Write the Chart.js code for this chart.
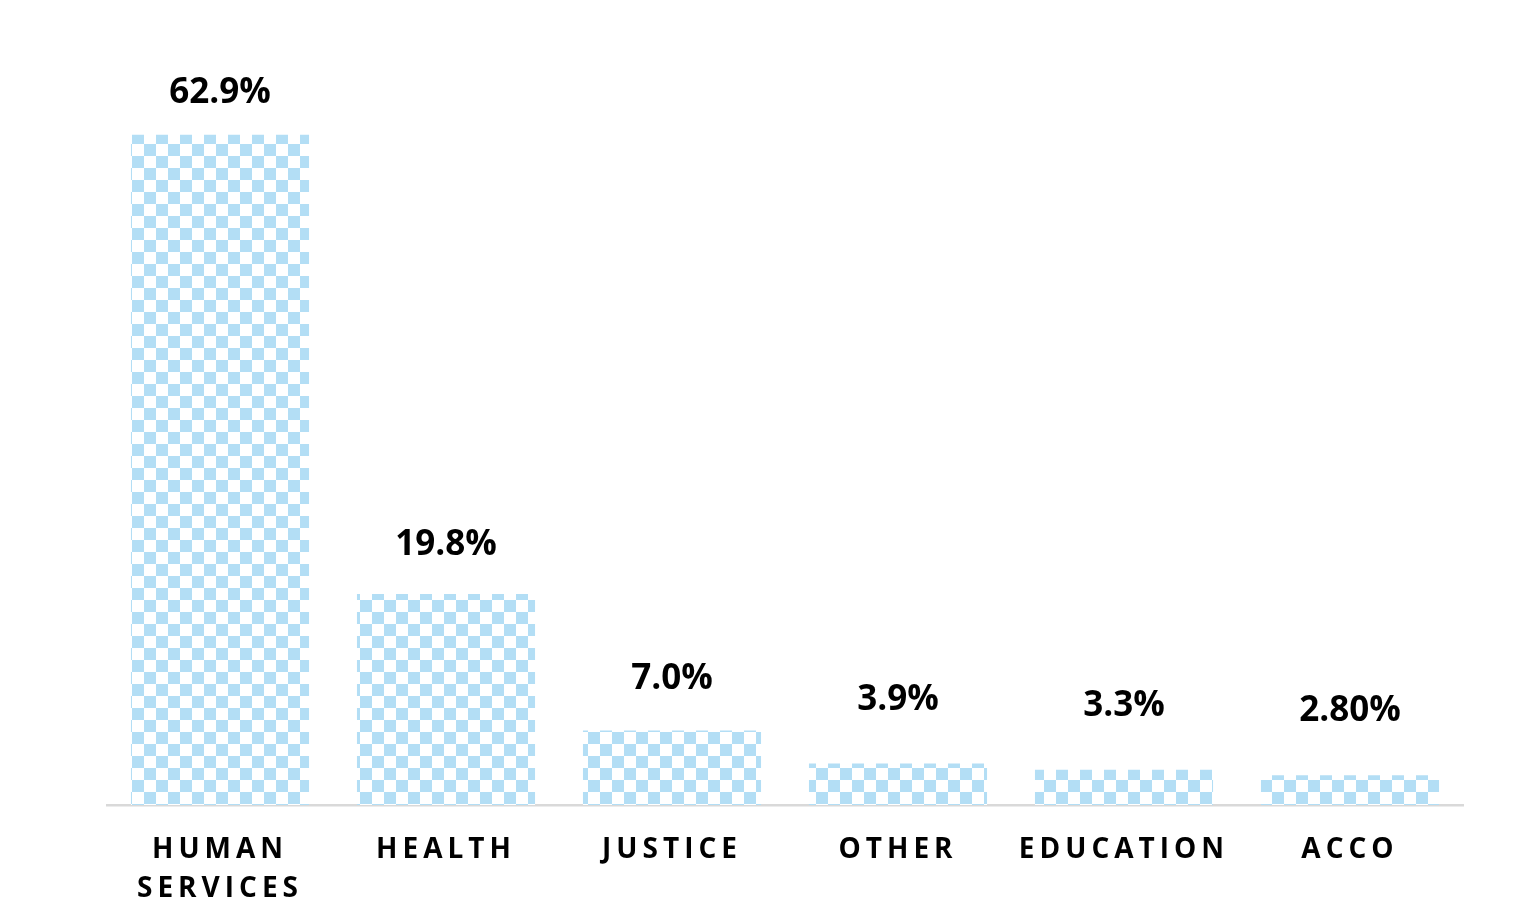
<!DOCTYPE html>
<html>
<head>
<meta charset="utf-8">
<script src="https://cdn.jsdelivr.net/npm/chart.js@4"></script>
<style>
html,body{margin:0;padding:0;background:#fff;}
#wrap{width:1536px;height:914px;}
</style>
</head>
<body>
<div id="wrap"><canvas id="chart"></canvas></div>
<script>
const categories = [["HUMAN", "SERVICES"], "HEALTH", "JUSTICE", "OTHER", "EDUCATION", "ACCO"];
const shares = [62.9, 19.8, 7.0, 3.9, 3.3, 2.8];
const shareLabels = ["62.9%", "19.8%", "7.0%", "3.9%", "3.3%", "2.80%"];

function checker(){
    const c = document.createElement("canvas");
    c.width = 24; c.height = 24;
    const g = c.getContext("2d");
    g.fillStyle = "#ffffff";
    g.fillRect(0,0,24,24);
    g.fillStyle = "#b3def5";
    g.fillRect(0,0,12,12);
    g.fillRect(12,12,12,12);
    return g.createPattern(c,"repeat");
}

// wide tracking on the category names
const spacing = {
    id:"spacing",
    beforeDraw(chart){
        chart.ctx.letterSpacing = "5px";
    }
};

const valueLabels = {
    id:"valueLabels",
    afterDatasetsDraw(chart, args, opts){
        const ctx = chart.ctx;
        const meta = chart.getDatasetMeta(0);
        ctx.save();
        ctx.letterSpacing = "0px";
        ctx.font = "bold 35px 'Open Sans'";
        ctx.fillStyle = "#000";
        ctx.textAlign = "center";
        ctx.textBaseline = "middle";
        meta.data.forEach((bar, i) => {
            ctx.fillText(shareLabels[i], bar.x, bar.y - opts.gap[i]);
        });
        ctx.restore();
    }
};

new Chart(document.getElementById("chart"),{
    type:"bar",
    data:{
        labels:categories,
        datasets:[{
            data:shares,
            backgroundColor:checker(),
            borderWidth:0,
            categoryPercentage:1,
            barPercentage:0.788
        }]
    },
    options:{
        responsive:true,
        maintainAspectRatio:false,
        animation:false,
        layout:{padding:{left:107,right:73,top:59,bottom:0}},
        plugins:{
            legend:{display:false},
            tooltip:{enabled:false},
            valueLabels:{gap:[42,49,51,63,64,64]}
        },
        scales:{
            x:{
                grid:{display:false},
                border:{color:"#d9d9d9",width:2.5},
                ticks:{
                    color:"#000",
                    padding:17,
                    font:{family:"'Open Sans'",size:28,weight:"bold",lineHeight:1.4},
                    maxRotation:0,
                    autoSkip:false
                },
                afterFit(scale){ scale.height = 109; }
            },
            y:{
                display:false,
                min:0,
                max:70
            }
        }
    },
    plugins:[spacing, valueLabels]
});
</script>
</body>
</html>
